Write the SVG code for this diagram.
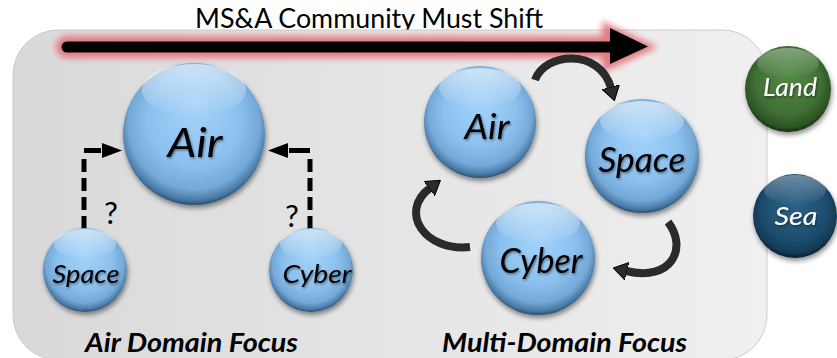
<svg xmlns="http://www.w3.org/2000/svg" width="837" height="358" viewBox="0 0 837 358">
  <defs>
    <linearGradient id="bg" x1="0" y1="0" x2="1" y2="0">
      <stop offset="0" stop-color="#d9d9d9"/>
      <stop offset="1" stop-color="#f0f0f0"/>
    </linearGradient>
    <radialGradient id="blue" cx="0.5" cy="0.45" r="0.55" fx="0.5" fy="0.32">
      <stop offset="0" stop-color="#a4d3fa"/>
      <stop offset="0.6" stop-color="#8bc0ee"/>
      <stop offset="0.84" stop-color="#74a8d6"/>
      <stop offset="0.95" stop-color="#4a7aa6"/>
      <stop offset="1" stop-color="#2b4f70"/>
    </radialGradient>
    <radialGradient id="green" cx="0.5" cy="0.45" r="0.55" fx="0.5" fy="0.32">
      <stop offset="0" stop-color="#558a46"/>
      <stop offset="0.7" stop-color="#3f6f34"/>
      <stop offset="0.92" stop-color="#2c5324"/>
      <stop offset="1" stop-color="#152b11"/>
    </radialGradient>
    <radialGradient id="navy" cx="0.5" cy="0.45" r="0.55" fx="0.5" fy="0.32">
      <stop offset="0" stop-color="#2c6387"/>
      <stop offset="0.7" stop-color="#1d4d6e"/>
      <stop offset="0.92" stop-color="#133a55"/>
      <stop offset="1" stop-color="#081c2a"/>
    </radialGradient>
    <linearGradient id="gloss" x1="0" y1="0" x2="0" y2="1">
      <stop offset="0" stop-color="#ffffff" stop-opacity="0.6"/>
      <stop offset="1" stop-color="#ffffff" stop-opacity="0"/>
    </linearGradient>
    <filter id="shadow" x="-30%" y="-30%" width="160%" height="170%">
      <feDropShadow dx="1" dy="3" stdDeviation="2.5" flood-color="#000" flood-opacity="0.45"/>
    </filter>
    <filter id="tshadow" x="-10%" y="-20%" width="130%" height="150%">
      <feDropShadow dx="1" dy="1.5" stdDeviation="1" flood-color="#000" flood-opacity="0.45"/>
    </filter>
    <filter id="glow" x="-10%" y="-100%" width="120%" height="300%">
      <feGaussianBlur stdDeviation="3"/>
    </filter>
    <marker id="curveHead" markerUnits="userSpaceOnUse" viewBox="0 0 14 18" markerWidth="14" markerHeight="18" refX="1" refY="9" orient="auto">
      <path d="M0,0 L14,9 L0,18 z" fill="#2a2a2a" stroke="#000" stroke-width="1"/>
    </marker>
    <style>
      .bub { filter: url(#shadow); }
      .blue { fill: url(#blue); }
      .gl { fill: url(#gloss); }
      .lbl { font-family: Lato, "Liberation Sans", sans-serif; font-style: italic; text-anchor: middle; filter: url(#tshadow); }
      .dark { fill: #000; }
      .light { fill: #fff; }
      .cap { font-family: Lato, "Liberation Sans", sans-serif; font-style: italic; font-weight: bold; font-size: 27px; text-anchor: middle; fill: #000; }
      .q { font-family: Lato, "Liberation Sans", sans-serif; font-size: 31px; text-anchor: middle; fill: #000; }
      .dash { fill: none; stroke: #000; stroke-width: 5; stroke-dasharray: 13 6; }
      .solid { fill: none; stroke: #000; stroke-width: 5; }
      .curve { fill: none; stroke: #2a2a2a; stroke-width: 8; marker-end: url(#curveHead); }
    </style>
  </defs>

  <text x="369" y="28" font-family="Lato, 'Liberation Sans', sans-serif" font-size="26" fill="#000" text-anchor="middle" textLength="348" lengthAdjust="spacingAndGlyphs">MS&amp;A Community Must Shift</text>

  <rect x="13" y="30" width="754" height="330" rx="45" ry="45" fill="url(#bg)" stroke="#cccccc" stroke-width="1"/>

  <g id="shift-arrow">
    <g filter="url(#glow)" opacity="0.9">
      <path d="M67 47 H612" stroke="#e56f78" stroke-width="22" stroke-linecap="round" fill="none"/>
      <path d="M602 21 L658 47 L602 73 z" fill="#e56f78"/>
    </g>
    <path d="M67 47 H614" stroke="#000" stroke-width="11" stroke-linecap="round" fill="none"/>
    <path d="M610 28 L648 46.5 L610 64 z" fill="#000"/>
  </g>

  <g id="connectors">
    <path class="dash" d="M84 229 V157"/>
    <path class="solid" d="M84 150.5 H101"/>
    <path d="M102 143 L122 150.5 L102 158 z" fill="#000"/>
    <path class="dash" d="M310 229 V157"/>
    <path class="solid" d="M310 150.5 H289"/>
    <path d="M288 143 L268 150.5 L288 158 z" fill="#000"/>
    <text class="q" x="111" y="224">?</text>
    <text class="q" x="292" y="227">?</text>
    <path class="curve" d="M535 80 C545 52, 600 48, 611 88"/>
    <path class="curve" d="M668 222 C688 248, 672 282, 626 271"/>
    <path class="curve" d="M470 247 C425 252, 398 212, 430 188"/>
  </g>

  <g id="air-left">
    <circle class="bub blue" cx="194" cy="134" r="71"/>
    <ellipse class="gl" cx="194" cy="90" rx="52" ry="26"/>
    <text class="lbl dark" x="195" y="157" font-size="40" textLength="55" lengthAdjust="spacingAndGlyphs">Air</text>
  </g>
  <g id="space-left">
    <circle class="bub blue" cx="85" cy="270" r="42"/>
    <ellipse class="gl" cx="85" cy="244" rx="31" ry="15"/>
    <text class="lbl dark" x="86" y="283" font-size="26" textLength="67" lengthAdjust="spacingAndGlyphs">Space</text>
  </g>
  <g id="cyber-left">
    <circle class="bub blue" cx="311" cy="270" r="42"/>
    <ellipse class="gl" cx="311" cy="244" rx="31" ry="15"/>
    <text class="lbl dark" x="317" y="283" font-size="26" textLength="69" lengthAdjust="spacingAndGlyphs">Cyber</text>
  </g>

  <g id="air-right">
    <circle class="bub blue" cx="480" cy="122" r="56"/>
    <ellipse class="gl" cx="480" cy="88" rx="41" ry="20"/>
    <text class="lbl dark" x="487" y="139" font-size="35" textLength="45" lengthAdjust="spacingAndGlyphs">Air</text>
  </g>
  <g id="space-right">
    <circle class="bub blue" cx="642" cy="156" r="57"/>
    <ellipse class="gl" cx="642" cy="121" rx="42" ry="20"/>
    <text class="lbl dark" x="642" y="172" font-size="34" textLength="87" lengthAdjust="spacingAndGlyphs">Space</text>
  </g>
  <g id="cyber-right">
    <circle class="bub blue" cx="538" cy="258" r="57"/>
    <ellipse class="gl" cx="538" cy="223" rx="42" ry="20"/>
    <text class="lbl dark" x="541" y="273" font-size="34" textLength="83" lengthAdjust="spacingAndGlyphs">Cyber</text>
  </g>

  <g id="land">
    <circle class="bub" fill="url(#green)" cx="788" cy="89" r="43"/>
    <ellipse class="gl" cx="788" cy="63" rx="31" ry="15" opacity="0.6"/>
    <text class="lbl light" x="790" y="96" font-size="25" textLength="54" lengthAdjust="spacingAndGlyphs">Land</text>
  </g>
  <g id="sea">
    <circle class="bub" fill="url(#navy)" cx="795" cy="216" r="42"/>
    <ellipse class="gl" cx="795" cy="190" rx="31" ry="15" opacity="0.6"/>
    <text class="lbl light" x="796" y="225" font-size="25" textLength="43" lengthAdjust="spacingAndGlyphs">Sea</text>
  </g>

  <g id="captions">
    <text class="cap" x="191.5" y="352" textLength="213" lengthAdjust="spacingAndGlyphs">Air Domain Focus</text>
    <text class="cap" x="564.5" y="352" textLength="245" lengthAdjust="spacingAndGlyphs">Multi-Domain Focus</text>
  </g>
</svg>
